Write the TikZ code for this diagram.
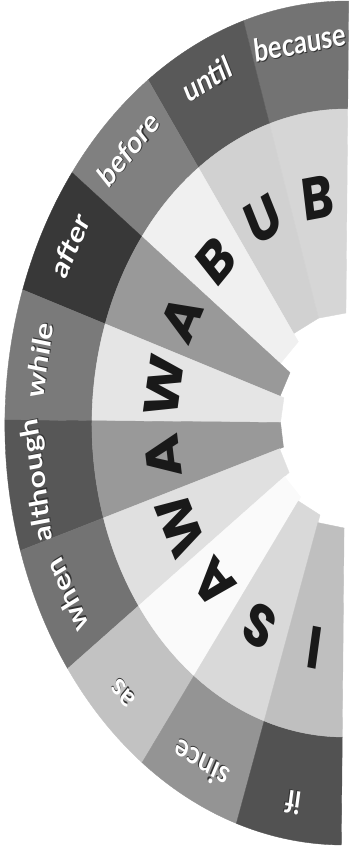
\documentclass[tikz,border=0pt]{standalone}
\usepackage{fontspec}
\setmainfont{Lato}
\newfontfamily\capsfont{Poppins}
\tikzset{
  word/.style={text=white,font=\bfseries\fontsize{18}{18}\selectfont,transform shape,inner sep=0pt},
  wshadow/.style={word,text=black!80},
  letter/.style={text=black!90,font=\capsfont\bfseries\fontsize{34}{34}\selectfont,transform shape,inner sep=0pt}
}
\begin{document}
\begin{tikzpicture}[x=0.02cm,y=0.02cm]
\useasboundingbox (-345,-427) rectangle (19,423);
\begin{scope}[rotate=-0.5,xscale=0.806]
% angle / word band / letter band / inner edge / word / letter
\foreach \a/\wcol/\lcol/\rin/\word/\letter [count=\i] in {
  90/black!55/black!16/110/because/B,
  108/black!65/black!18/110/until/U,
  126/black!50/black!6/100/before/B,
  144/black!78/black!40/85/after/A,
  162/black!52/black!10/80/while/W,
  180/black!66/black!40/80/although/A,
  198/black!55/black!12/85/when/W,
  216/black!24/black!2/92/as/A,
  234/black!42/black!15/97/since/S,
  252/black!68/black!25/105/if/I}
{
  \filldraw[\wcol,line width=0.2pt] (\a:422) arc[start angle=\a,end angle=\a+18,radius=422]
    -- (\a+18:314) arc[start angle=\a+18,end angle=\a,radius=314] -- cycle;
  \filldraw[\lcol,line width=0.2pt] (\a:314) arc[start angle=\a,end angle=\a+18,radius=314]
    -- (\a+18:\rin) -- (\a:\rin) -- cycle;
  \node[wshadow,rotate=\a-81,xshift=0.7pt,yshift=-0.7pt] (s\i) at (\a+9:385) {\word};
  \node[word,rotate=\a-81] (w\i) at (\a+9:385) {\word};
  \node[letter,rotate=\a-81] (l\i) at (\a+9:228) {\letter};
}
\end{scope}
\end{tikzpicture}
\end{document}
